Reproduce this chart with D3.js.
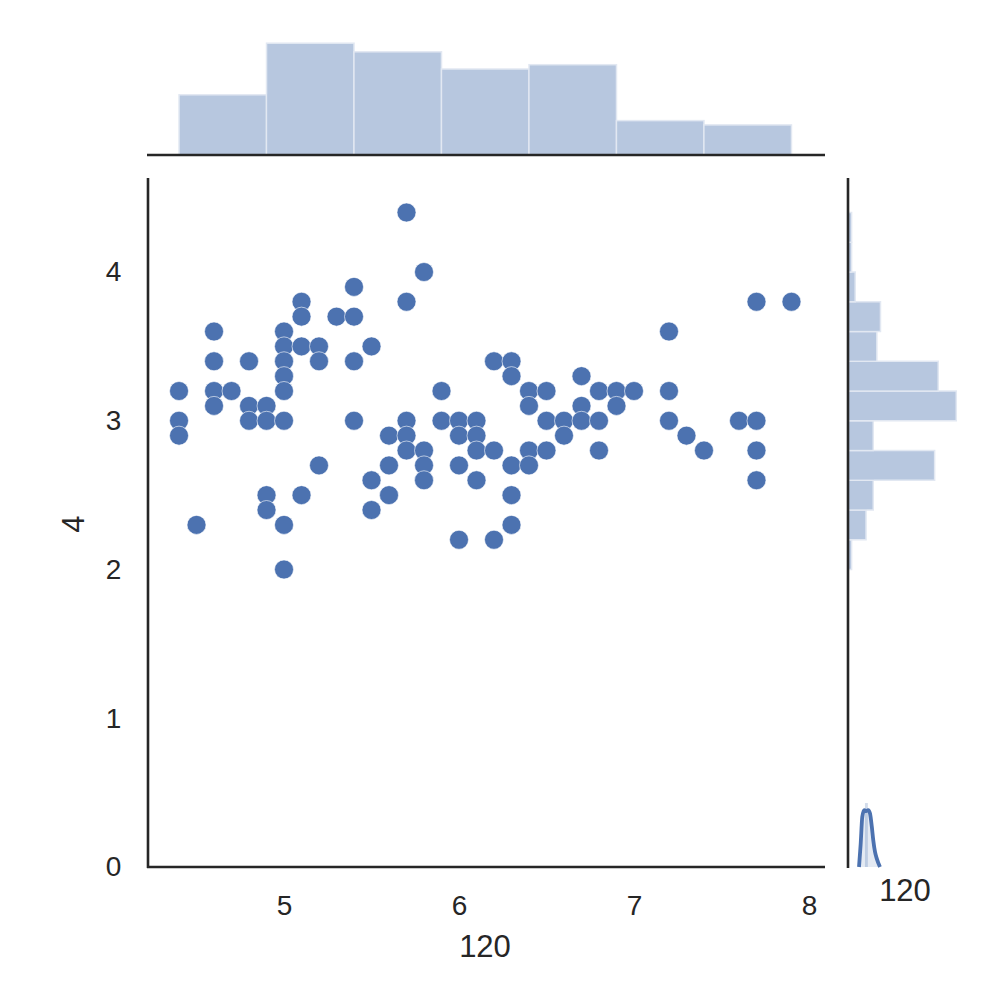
<!DOCTYPE html>
<html>
<head>
<meta charset="utf-8">
<script src="https://cdn.jsdelivr.net/npm/d3@7"></script>
<style>
  body { margin: 0; background: #fff; }
  text { font-family: "Liberation Sans", Arial, sans-serif; fill: #262626; }
</style>
</head>
<body>
<div id="chart"></div>
<script>
// scatter data (x, y)
var ptsX = [4.4,4.4,4.4, 4.5, 4.6,4.6,4.6,4.6, 4.7, 4.8,4.8,4.8, 4.9,4.9,4.9,4.9,
    5.0,5.0,5.0,5.0,5.0,5.0,5.0,5.0, 5.1,5.1,5.1,5.1, 5.2,5.2,5.2, 5.3, 5.4,5.4,5.4,5.4,
    5.5,5.5,5.5, 5.6,5.6,5.6, 5.7,5.7,5.7,5.7,5.7, 5.8,5.8,5.8,5.8, 5.9,5.9,
    6.0,6.0,6.0,6.0, 6.1,6.1,6.1,6.1, 6.2,6.2,6.2, 6.3,6.3,6.3,6.3,6.3, 6.4,6.4,6.4,6.4,
    6.5,6.5,6.5, 6.6,6.6, 6.7,6.7,6.7, 6.8,6.8,6.8, 6.9,6.9, 7.0, 7.2,7.2,7.2, 7.3, 7.4, 7.6,
    7.7,7.7,7.7,7.7, 7.9];
var ptsY = [3.2,3.0,2.9, 2.3, 3.6,3.4,3.2,3.1, 3.2, 3.4,3.1,3.0, 3.1,3.0,2.5,2.4,
    3.6,3.5,3.4,3.3,3.2,3.0,2.3,2.0, 3.8,3.7,3.5,2.5, 3.5,3.4,2.7, 3.7, 3.9,3.7,3.4,3.0,
    3.5,2.6,2.4, 2.9,2.7,2.5, 4.4,3.8,3.0,2.9,2.8, 4.0,2.8,2.7,2.6, 3.2,3.0,
    3.0,2.9,2.7,2.2, 3.0,2.9,2.8,2.6, 3.4,2.8,2.2, 3.4,3.3,2.7,2.5,2.3, 3.2,3.1,2.8,2.7,
    3.2,3.0,2.8, 3.0,2.9, 3.3,3.1,3.0, 3.2,3.0,2.8, 3.2,3.1, 3.2, 3.6,3.2,3.0, 2.9, 2.8, 3.0,
    3.8,3.0,2.8,2.6, 3.8];

// top marginal histogram
var topEdges = [4.4, 4.9, 5.4, 5.9, 6.4, 6.9, 7.4, 7.9];
var topCounts = [14, 26, 24, 20, 21, 8, 7];

// right marginal histogram
var rightEdges = [2.0, 2.2, 2.4, 2.6, 2.8, 3.0, 3.2, 3.4, 3.6, 3.8, 4.0, 4.2, 4.4];
var rightCounts = [1, 5, 7, 24, 7, 30, 25, 8, 9, 2, 1, 1];

// small density curve drawn in the right marginal (x in marginal units, y in joint units)
var kdeX = [3.05, 3.5, 3.96, 4.5, 5.0, 5.6, 6.1, 6.6, 7.0, 7.5, 7.95, 8.86];
var kdeY = [0, 0.15, 0.338, 0.383, 0.375, 0.383, 0.36, 0.27, 0.18, 0.1, 0.058, 0];
var kdeBar = [4.7, 5.5, 0.43];

var xTicks = [5, 6, 7, 8];
var yTicks = [0, 1, 2, 3, 4];
var xLabel = "120", yLabel = "4", margLabel = "120";

var blue = "#4c72b0";
var W = 1000, H = 1000;

var svg = d3.select("#chart").append("svg")
    .attr("width", W).attr("height", H);

var x = d3.scaleLinear().domain([4.225, 8.075]).range([148.4, 822.1]);
var y = d3.scaleLinear().domain([0, 4.63]).range([867, 178.3]);
var yTop = d3.scaleLinear().domain([0, 27.3]).range([155, 37.6]);
var xRight = d3.scaleLinear().domain([0, 31.5]).range([848, 961.7]);

// top histogram
svg.append("g").selectAll("rect")
    .data(topCounts)
    .enter()
    .append("rect")
    .attr("x", function (d, i) { return x(topEdges[i]); })
    .attr("width", function (d, i) { return x(topEdges[i + 1]) - x(topEdges[i]); })
    .attr("y", function (d) { return yTop(d); })
    .attr("height", function (d) { return yTop(0) - yTop(d); })
    .attr("fill", blue).attr("fill-opacity", 0.4)
    .attr("stroke", "#e2e8f2").attr("stroke-width", 1.5);

// right histogram
svg.append("g").selectAll("rect")
    .data(rightCounts)
    .enter()
    .append("rect")
    .attr("y", function (d, i) { return y(rightEdges[i + 1]); })
    .attr("height", function (d, i) { return y(rightEdges[i]) - y(rightEdges[i + 1]); })
    .attr("x", xRight(0))
    .attr("width", function (d) { return xRight(d) - xRight(0); })
    .attr("fill", blue).attr("fill-opacity", 0.4)
    .attr("stroke", "#e2e8f2").attr("stroke-width", 1.5);

// little curve at the bottom of right marginal
var kdePts = kdeX.map(function (v, i) { return [v, kdeY[i]]; });
svg.append("rect")
    .attr("x", xRight(kdeBar[0]))
    .attr("width", xRight(kdeBar[1]) - xRight(kdeBar[0]))
    .attr("y", y(kdeBar[2]))
    .attr("height", y(0) - y(kdeBar[2]))
    .attr("fill", blue).attr("fill-opacity", 0.25);
svg.append("path")
    .datum(kdePts)
    .attr("d", d3.area()
        .x(function (d) { return xRight(d[0]); })
        .y0(y(0))
        .y1(function (d) { return y(d[1]); })
        .curve(d3.curveMonotoneX))
    .attr("fill", blue).attr("fill-opacity", 0.15);
svg.append("path")
    .datum(kdePts)
    .attr("d", d3.line()
        .x(function (d) { return xRight(d[0]); })
        .y(function (d) { return y(d[1]); })
        .curve(d3.curveMonotoneX))
    .attr("fill", "none")
    .attr("stroke", blue)
    .attr("stroke-width", 3.8);

// scatter
svg.append("g").selectAll("circle")
    .data(ptsX)
    .enter()
    .append("circle")
    .attr("cx", function (d) { return x(d); })
    .attr("cy", function (d, i) { return y(ptsY[i]); })
    .attr("r", 9.5)
    .attr("fill", blue)
    .attr("stroke", "#ffffff")
    .attr("stroke-width", 0.6);

// axes (ticks only, spines drawn separately)
var gx = svg.append("g")
    .attr("transform", "translate(0," + y(0) + ")")
    .call(d3.axisBottom(x).tickValues(xTicks).tickSize(0).tickPadding(28).tickFormat(d3.format("d")));
gx.select(".domain").remove();
gx.selectAll("text").style("font-size", "28px").style("fill", "#262626")
    .style("font-family", "'Liberation Sans', Arial, sans-serif");

var gy = svg.append("g")
    .attr("transform", "translate(" + x.range()[0] + ",0)")
    .call(d3.axisLeft(y).tickValues(yTicks).tickSize(0).tickPadding(27).tickFormat(d3.format("d")));
gy.select(".domain").remove();
gy.selectAll("text").style("font-size", "28px").style("fill", "#262626")
    .style("font-family", "'Liberation Sans', Arial, sans-serif");

// spines
var spine = "#262626", sw = 2.6;
svg.append("line").attr("x1", 148).attr("x2", 148).attr("y1", 178).attr("y2", 868)
    .attr("stroke", spine).attr("stroke-width", sw);
svg.append("line").attr("x1", 147).attr("x2", 825).attr("y1", 867).attr("y2", 867)
    .attr("stroke", spine).attr("stroke-width", sw);
svg.append("line").attr("x1", 147).attr("x2", 825).attr("y1", 155).attr("y2", 155)
    .attr("stroke", spine).attr("stroke-width", sw);
svg.append("line").attr("x1", 848).attr("x2", 848).attr("y1", 178).attr("y2", 868)
    .attr("stroke", spine).attr("stroke-width", sw);

// labels
svg.append("text")
    .attr("x", 485).attr("y", 957)
    .attr("text-anchor", "middle")
    .style("font-size", "31px")
    .text(xLabel);
svg.append("text")
    .attr("transform", "translate(84,524) rotate(-90)")
    .attr("text-anchor", "middle")
    .style("font-size", "31px")
    .text(yLabel);
svg.append("text")
    .attr("x", 905).attr("y", 901)
    .attr("text-anchor", "middle")
    .style("font-size", "31px")
    .text(margLabel);
</script>
</body>
</html>
